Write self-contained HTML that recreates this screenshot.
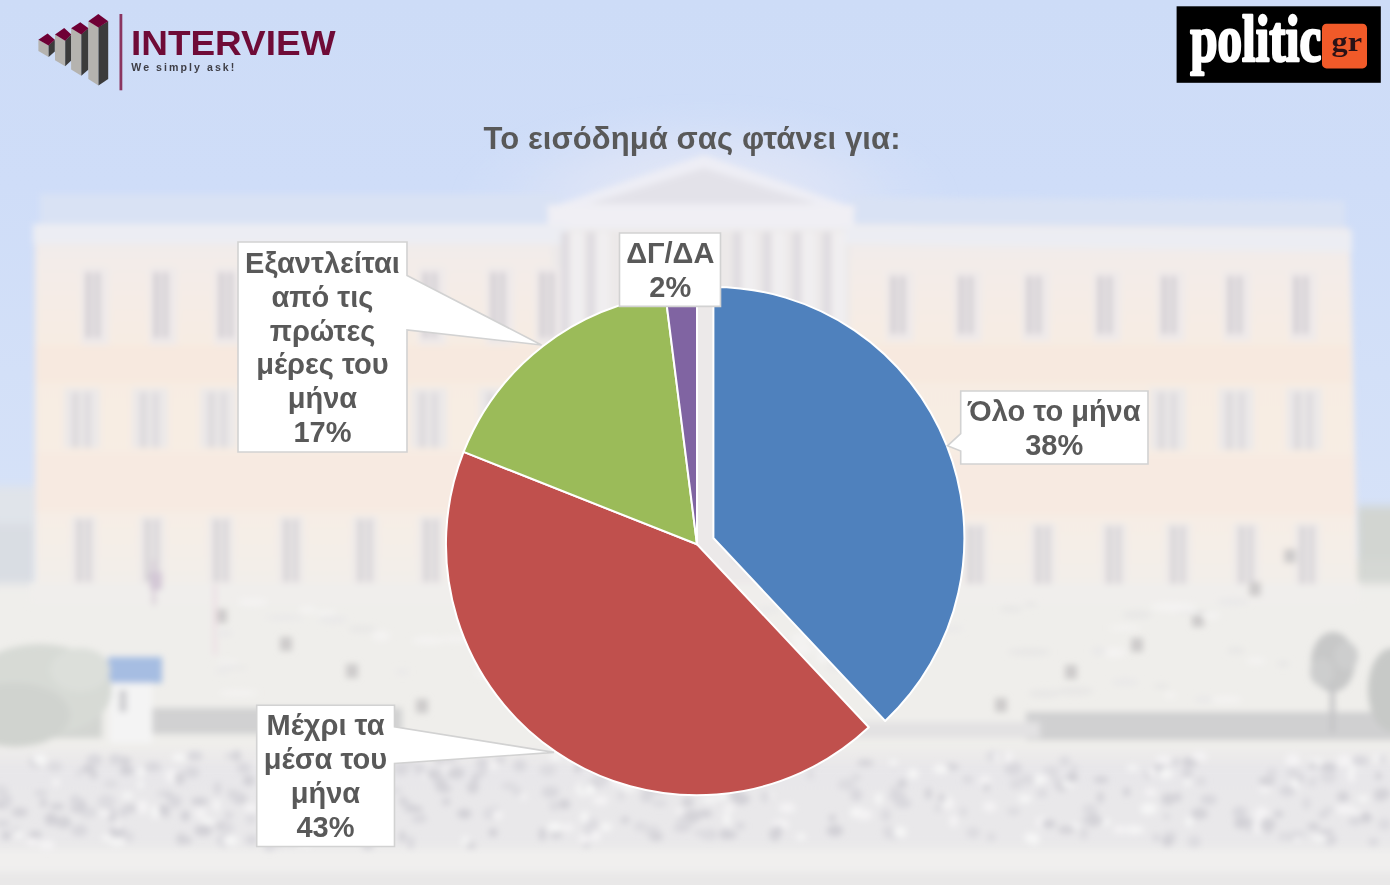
<!DOCTYPE html>
<html lang="el">
<head>
<meta charset="utf-8">
<title>Το εισόδημά σας φτάνει για</title>
<style>
  html, body { margin: 0; padding: 0; }
  body { width: 1390px; height: 885px; overflow: hidden; background: #efeceb; font-family: "Liberation Sans", sans-serif; }
  #stage { position: relative; width: 1390px; height: 885px; overflow: hidden; }
  svg { position: absolute; left: 0; top: 0; display: block; }
  #chart { filter: blur(0.45px); }
  text { font-family: "Liberation Sans", sans-serif; }
</style>
</head>
<body>
<div id="stage">

<!-- ===================== BACKGROUND (faded parliament photo) ===================== -->
<svg id="bg" width="1390" height="885" viewBox="0 0 1390 885">
<defs>
<linearGradient id="sky" x1="0" y1="0" x2="0" y2="1">
<stop offset="0" stop-color="#cddcf7"/><stop offset="0.3" stop-color="#cfddf8"/><stop offset="0.6" stop-color="#d3e0f8"/><stop offset="1" stop-color="#d8e3f8"/>
</linearGradient>
<linearGradient id="wall" x1="0" y1="0" x2="0" y2="1">
<stop offset="0" stop-color="#eeeaec"/><stop offset="0.10" stop-color="#f3ece9"/><stop offset="0.35" stop-color="#f7ece2"/><stop offset="0.75" stop-color="#f7ede4"/><stop offset="1" stop-color="#f2eeea"/>
</linearGradient>
<radialGradient id="halo" cx="0.5" cy="0.5" r="0.5">
<stop offset="0" stop-color="#e9eaf5" stop-opacity="0.95"/><stop offset="0.55" stop-color="#e1e6f6" stop-opacity="0.6"/><stop offset="1" stop-color="#d6e1f8" stop-opacity="0"/>
</radialGradient>
<linearGradient id="mot" x1="0" y1="0" x2="0" y2="1">
<stop offset="0" stop-color="#e8e7ea" stop-opacity="0"/><stop offset="0.2" stop-color="#e8e7ea" stop-opacity="1"/><stop offset="0.8" stop-color="#e9e8ea" stop-opacity="1"/><stop offset="1" stop-color="#ebeaec" stop-opacity="0"/>
</linearGradient>
<filter id="bl" x="-3%" y="-3%" width="106%" height="106%"><feGaussianBlur stdDeviation="3.2"/></filter>
<filter id="bl2" x="-3%" y="-3%" width="106%" height="106%"><feGaussianBlur stdDeviation="5"/></filter>
</defs>
<rect x="0.0" y="0.0" width="1390.0" height="885.0" fill="#d6e1f8"/>
<rect x="0.0" y="0.0" width="1390.0" height="620.0" fill="url(#sky)"/>
<g filter="url(#bl2)">
<ellipse cx="705.0" cy="200.0" rx="250.0" ry="100.0" fill="url(#halo)"/>
<rect x="-10.0" y="486.0" width="48.0" height="100.0" fill="#e0e4ea"/>
<rect x="-10.0" y="524.0" width="44.0" height="62.0" fill="#d9dde3"/>
<rect x="1356.0" y="506.0" width="50.0" height="240.0" fill="#d2d5d1"/>
<rect x="1344.0" y="560.0" width="60.0" height="180.0" fill="#d5d8d4"/>
<rect x="-10.0" y="584.0" width="1410.0" height="320.0" fill="#efeeeb"/>
</g>
<g filter="url(#bl)">
<rect x="40.0" y="194.0" width="520.0" height="32.0" fill="#d9e2f4"/>
<polygon points="850,197 1345,201 1345,232 850,226" fill="#d9e2f4"/>
<rect x="35.0" y="224.0" width="532.0" height="362.0" fill="url(#wall)"/>
<polygon points="845,224 1350,228 1358,592 845,590" fill="url(#wall)"/>
<rect x="552.0" y="212.0" width="298.0" height="376.0" fill="#ece9e9"/>
<polygon points="545,209 704,155 858,209" fill="#eeeef5"/>
<polygon points="588,204 704,168 818,204" fill="#e3e2e9"/>
<rect x="548.0" y="205.0" width="306.0" height="24.0" fill="#f0eff4"/>
<rect x="33.0" y="224.0" width="535.0" height="20.0" fill="#ecedf3"/>
<polygon points="845,226 1352,231 1352,252 845,244" fill="#ecedf3"/>
<rect x="36.0" y="345.0" width="530.0" height="38.0" fill="#f7e9df"/>
<rect x="36.0" y="452.0" width="530.0" height="60.0" fill="#f7eae1"/>
<polygon points="845,345 1350,345 1352,383 845,383" fill="#f7e9df"/>
<polygon points="845,455 1354,455 1356,516 845,516" fill="#f7eae1"/>
<rect x="81.0" y="267.0" width="28.0" height="78.0" fill="#efeaea"/>
<rect x="86.0" y="272.0" width="5.0" height="66.0" fill="#cdc9cf"/>
<rect x="95.0" y="272.0" width="5.0" height="66.0" fill="#d0ccd2"/>
<rect x="149.0" y="267.0" width="28.0" height="78.0" fill="#efeaea"/>
<rect x="154.0" y="272.0" width="5.0" height="66.0" fill="#cdc9cf"/>
<rect x="163.0" y="272.0" width="5.0" height="66.0" fill="#d0ccd2"/>
<rect x="214.0" y="267.0" width="28.0" height="78.0" fill="#efeaea"/>
<rect x="219.0" y="272.0" width="5.0" height="66.0" fill="#cdc9cf"/>
<rect x="228.0" y="272.0" width="5.0" height="66.0" fill="#d0ccd2"/>
<rect x="282.0" y="267.0" width="28.0" height="78.0" fill="#efeaea"/>
<rect x="287.0" y="272.0" width="5.0" height="66.0" fill="#cdc9cf"/>
<rect x="296.0" y="272.0" width="5.0" height="66.0" fill="#d0ccd2"/>
<rect x="350.0" y="267.0" width="28.0" height="78.0" fill="#efeaea"/>
<rect x="355.0" y="272.0" width="5.0" height="66.0" fill="#cdc9cf"/>
<rect x="364.0" y="272.0" width="5.0" height="66.0" fill="#d0ccd2"/>
<rect x="418.0" y="267.0" width="28.0" height="78.0" fill="#efeaea"/>
<rect x="423.0" y="272.0" width="5.0" height="66.0" fill="#cdc9cf"/>
<rect x="432.0" y="272.0" width="5.0" height="66.0" fill="#d0ccd2"/>
<rect x="486.0" y="267.0" width="28.0" height="78.0" fill="#efeaea"/>
<rect x="491.0" y="272.0" width="5.0" height="66.0" fill="#cdc9cf"/>
<rect x="500.0" y="272.0" width="5.0" height="66.0" fill="#d0ccd2"/>
<rect x="535.0" y="267.0" width="28.0" height="78.0" fill="#efeaea"/>
<rect x="540.0" y="272.0" width="5.0" height="66.0" fill="#cdc9cf"/>
<rect x="549.0" y="272.0" width="5.0" height="66.0" fill="#d0ccd2"/>
<rect x="886.0" y="271.0" width="28.0" height="70.0" fill="#efeaea"/>
<rect x="891.0" y="276.0" width="5.0" height="58.0" fill="#cdc9cf"/>
<rect x="900.0" y="276.0" width="5.0" height="58.0" fill="#d0ccd2"/>
<rect x="954.0" y="271.0" width="28.0" height="70.0" fill="#efeaea"/>
<rect x="959.0" y="276.0" width="5.0" height="58.0" fill="#cdc9cf"/>
<rect x="968.0" y="276.0" width="5.0" height="58.0" fill="#d0ccd2"/>
<rect x="1022.0" y="271.0" width="28.0" height="70.0" fill="#efeaea"/>
<rect x="1027.0" y="276.0" width="5.0" height="58.0" fill="#cdc9cf"/>
<rect x="1036.0" y="276.0" width="5.0" height="58.0" fill="#d0ccd2"/>
<rect x="1093.0" y="271.0" width="28.0" height="70.0" fill="#efeaea"/>
<rect x="1098.0" y="276.0" width="5.0" height="58.0" fill="#cdc9cf"/>
<rect x="1107.0" y="276.0" width="5.0" height="58.0" fill="#d0ccd2"/>
<rect x="1157.0" y="271.0" width="28.0" height="70.0" fill="#efeaea"/>
<rect x="1162.0" y="276.0" width="5.0" height="58.0" fill="#cdc9cf"/>
<rect x="1171.0" y="276.0" width="5.0" height="58.0" fill="#d0ccd2"/>
<rect x="1223.0" y="271.0" width="28.0" height="70.0" fill="#efeaea"/>
<rect x="1228.0" y="276.0" width="5.0" height="58.0" fill="#cdc9cf"/>
<rect x="1237.0" y="276.0" width="5.0" height="58.0" fill="#d0ccd2"/>
<rect x="1289.0" y="271.0" width="28.0" height="70.0" fill="#efeaea"/>
<rect x="1294.0" y="276.0" width="5.0" height="58.0" fill="#cdc9cf"/>
<rect x="1303.0" y="276.0" width="5.0" height="58.0" fill="#d0ccd2"/>
<rect x="64.0" y="388.0" width="36.0" height="60.0" fill="#ece9e9"/>
<rect x="72.0" y="392.0" width="7.0" height="56.0" fill="#dcd9dc"/>
<rect x="84.0" y="392.0" width="7.0" height="56.0" fill="#dedbde"/>
<rect x="132.0" y="388.0" width="36.0" height="60.0" fill="#ece9e9"/>
<rect x="140.0" y="392.0" width="7.0" height="56.0" fill="#dcd9dc"/>
<rect x="152.0" y="392.0" width="7.0" height="56.0" fill="#dedbde"/>
<rect x="200.0" y="388.0" width="36.0" height="60.0" fill="#ece9e9"/>
<rect x="208.0" y="392.0" width="7.0" height="56.0" fill="#dcd9dc"/>
<rect x="220.0" y="392.0" width="7.0" height="56.0" fill="#dedbde"/>
<rect x="268.0" y="388.0" width="36.0" height="60.0" fill="#ece9e9"/>
<rect x="276.0" y="392.0" width="7.0" height="56.0" fill="#dcd9dc"/>
<rect x="288.0" y="392.0" width="7.0" height="56.0" fill="#dedbde"/>
<rect x="411.0" y="388.0" width="36.0" height="60.0" fill="#ece9e9"/>
<rect x="419.0" y="392.0" width="7.0" height="56.0" fill="#dcd9dc"/>
<rect x="431.0" y="392.0" width="7.0" height="56.0" fill="#dedbde"/>
<rect x="479.0" y="388.0" width="36.0" height="60.0" fill="#ece9e9"/>
<rect x="487.0" y="392.0" width="7.0" height="56.0" fill="#dcd9dc"/>
<rect x="499.0" y="392.0" width="7.0" height="56.0" fill="#dedbde"/>
<rect x="528.0" y="388.0" width="36.0" height="60.0" fill="#ece9e9"/>
<rect x="536.0" y="392.0" width="7.0" height="56.0" fill="#dcd9dc"/>
<rect x="548.0" y="392.0" width="7.0" height="56.0" fill="#dedbde"/>
<rect x="1150.0" y="388.0" width="36.0" height="62.0" fill="#ece9e9"/>
<rect x="1158.0" y="392.0" width="7.0" height="58.0" fill="#dcd9dc"/>
<rect x="1170.0" y="392.0" width="7.0" height="58.0" fill="#dedbde"/>
<rect x="1218.0" y="388.0" width="36.0" height="62.0" fill="#ece9e9"/>
<rect x="1226.0" y="392.0" width="7.0" height="58.0" fill="#dcd9dc"/>
<rect x="1238.0" y="392.0" width="7.0" height="58.0" fill="#dedbde"/>
<rect x="1286.0" y="388.0" width="36.0" height="62.0" fill="#ece9e9"/>
<rect x="1294.0" y="392.0" width="7.0" height="58.0" fill="#dcd9dc"/>
<rect x="1306.0" y="392.0" width="7.0" height="58.0" fill="#dedbde"/>
<rect x="71.0" y="516.0" width="26.0" height="69.0" fill="#eeeae9"/>
<rect x="77.0" y="519.0" width="5.0" height="63.0" fill="#d3d0d4"/>
<rect x="86.0" y="519.0" width="5.0" height="63.0" fill="#d6d3d7"/>
<rect x="139.0" y="516.0" width="26.0" height="69.0" fill="#eeeae9"/>
<rect x="145.0" y="519.0" width="5.0" height="63.0" fill="#d3d0d4"/>
<rect x="154.0" y="519.0" width="5.0" height="63.0" fill="#d6d3d7"/>
<rect x="208.0" y="516.0" width="26.0" height="69.0" fill="#eeeae9"/>
<rect x="214.0" y="519.0" width="5.0" height="63.0" fill="#d3d0d4"/>
<rect x="223.0" y="519.0" width="5.0" height="63.0" fill="#d6d3d7"/>
<rect x="278.0" y="516.0" width="26.0" height="69.0" fill="#eeeae9"/>
<rect x="284.0" y="519.0" width="5.0" height="63.0" fill="#d3d0d4"/>
<rect x="293.0" y="519.0" width="5.0" height="63.0" fill="#d6d3d7"/>
<rect x="352.0" y="516.0" width="26.0" height="69.0" fill="#eeeae9"/>
<rect x="358.0" y="519.0" width="5.0" height="63.0" fill="#d3d0d4"/>
<rect x="367.0" y="519.0" width="5.0" height="63.0" fill="#d6d3d7"/>
<rect x="418.0" y="516.0" width="26.0" height="69.0" fill="#eeeae9"/>
<rect x="424.0" y="519.0" width="5.0" height="63.0" fill="#d3d0d4"/>
<rect x="433.0" y="519.0" width="5.0" height="63.0" fill="#d6d3d7"/>
<rect x="962.0" y="523.0" width="26.0" height="66.0" fill="#eeeae9"/>
<rect x="968.0" y="526.0" width="5.0" height="60.0" fill="#d3d0d4"/>
<rect x="977.0" y="526.0" width="5.0" height="60.0" fill="#d6d3d7"/>
<rect x="1030.0" y="523.0" width="26.0" height="66.0" fill="#eeeae9"/>
<rect x="1036.0" y="526.0" width="5.0" height="60.0" fill="#d3d0d4"/>
<rect x="1045.0" y="526.0" width="5.0" height="60.0" fill="#d6d3d7"/>
<rect x="1101.0" y="523.0" width="26.0" height="66.0" fill="#eeeae9"/>
<rect x="1107.0" y="526.0" width="5.0" height="60.0" fill="#d3d0d4"/>
<rect x="1116.0" y="526.0" width="5.0" height="60.0" fill="#d6d3d7"/>
<rect x="1165.0" y="523.0" width="26.0" height="66.0" fill="#eeeae9"/>
<rect x="1171.0" y="526.0" width="5.0" height="60.0" fill="#d3d0d4"/>
<rect x="1180.0" y="526.0" width="5.0" height="60.0" fill="#d6d3d7"/>
<rect x="1233.0" y="523.0" width="26.0" height="66.0" fill="#eeeae9"/>
<rect x="1239.0" y="526.0" width="5.0" height="60.0" fill="#d3d0d4"/>
<rect x="1248.0" y="526.0" width="5.0" height="60.0" fill="#d6d3d7"/>
<rect x="1294.0" y="523.0" width="26.0" height="66.0" fill="#eeeae9"/>
<rect x="1300.0" y="526.0" width="5.0" height="60.0" fill="#d3d0d4"/>
<rect x="1309.0" y="526.0" width="5.0" height="60.0" fill="#d6d3d7"/>
<rect x="561.0" y="232.0" width="8.0" height="330.0" fill="#dedbe0"/>
<rect x="571.0" y="232.0" width="12.0" height="330.0" fill="#f1eff1"/>
<rect x="587.0" y="232.0" width="8.0" height="330.0" fill="#dedbe0"/>
<rect x="597.0" y="232.0" width="12.0" height="330.0" fill="#f1eff1"/>
<rect x="733.0" y="232.0" width="8.0" height="330.0" fill="#dedbe0"/>
<rect x="743.0" y="232.0" width="12.0" height="330.0" fill="#f1eff1"/>
<rect x="763.0" y="232.0" width="8.0" height="330.0" fill="#dedbe0"/>
<rect x="773.0" y="232.0" width="12.0" height="330.0" fill="#f1eff1"/>
<rect x="793.0" y="232.0" width="8.0" height="330.0" fill="#dedbe0"/>
<rect x="803.0" y="232.0" width="12.0" height="330.0" fill="#f1eff1"/>
<rect x="823.0" y="232.0" width="8.0" height="330.0" fill="#dedbe0"/>
<rect x="833.0" y="232.0" width="12.0" height="330.0" fill="#f1eff1"/>
<rect x="30.0" y="584.0" width="1330.0" height="20.0" fill="#f0eeec"/>
<rect x="152.0" y="708.0" width="250.0" height="26.0" fill="#d1d1d2"/>
<rect x="-10.0" y="712.0" width="112.0" height="26.0" fill="#d3d5d2"/>
<rect x="1026.0" y="712.0" width="380.0" height="28.0" fill="#d0d0d1"/>
<rect x="640.0" y="722.0" width="400.0" height="16.0" fill="#e3e2e3"/>
<rect x="108.0" y="657.0" width="54.0" height="26.0" fill="#a6bde2"/>
<rect x="110.0" y="683.0" width="42.0" height="60.0" fill="#f4f4f4"/>
<rect x="119.0" y="690.0" width="8.0" height="22.0" fill="#cfcfd2"/>
<ellipse cx="40.0" cy="690.0" rx="72.0" ry="46.0" fill="#d7dad5"/>
<ellipse cx="15.0" cy="715.0" rx="55.0" ry="32.0" fill="#d0d3cf"/>
<ellipse cx="80.0" cy="670.0" rx="30.0" ry="22.0" fill="#dcdfda"/>
<ellipse cx="1333.0" cy="662.0" rx="22.0" ry="30.0" fill="#c7c8c8"/>
<ellipse cx="1322.0" cy="672.0" rx="12.0" ry="14.0" fill="#cdcece"/>
<ellipse cx="1346.0" cy="656.0" rx="12.0" ry="14.0" fill="#cdcece"/>
<rect x="1330.0" y="685.0" width="5.0" height="48.0" fill="#c4c4c6"/>
<ellipse cx="1392.0" cy="690.0" rx="24.0" ry="42.0" fill="#c7c9c7"/>
<rect x="215.0" y="609.0" width="12.0" height="14.0" fill="#cdcbcb"/>
<rect x="280.0" y="637.0" width="12.0" height="14.0" fill="#cdcbcb"/>
<rect x="346.0" y="664.0" width="12.0" height="14.0" fill="#cdcbcb"/>
<rect x="416.0" y="699.0" width="12.0" height="14.0" fill="#cdcbcb"/>
<rect x="1249.0" y="582.0" width="12.0" height="14.0" fill="#cdcbcb"/>
<rect x="1192.0" y="613.0" width="12.0" height="14.0" fill="#cdcbcb"/>
<rect x="1131.0" y="638.0" width="12.0" height="14.0" fill="#cdcbcb"/>
<rect x="1065.0" y="665.0" width="12.0" height="14.0" fill="#cdcbcb"/>
<rect x="995.0" y="698.0" width="12.0" height="14.0" fill="#cdcbcb"/>
<rect x="1284.0" y="549.0" width="12.0" height="14.0" fill="#cdcbcb"/>
<rect x="152.0" y="560.0" width="4.0" height="45.0" fill="#d9cfd9"/>
<rect x="150.0" y="572.0" width="12.0" height="18.0" fill="#d3c7d6"/>
<rect x="213.0" y="585.0" width="4.0" height="70.0" fill="#ecdfe4"/>
<rect x="-10.0" y="744.0" width="1410.0" height="122.0" fill="url(#mot)"/>
<rect x="-10.0" y="850.0" width="1410.0" height="22.0" fill="#f0efee"/>
<rect x="-10.0" y="872.0" width="1410.0" height="20.0" fill="#e9e8e8"/>
</g>
<g filter="url(#bl)">
<ellipse cx="450.1" cy="769.6" rx="6.9" ry="3.3" fill="#f4f3f4"/>
<ellipse cx="130.8" cy="808.5" rx="8.5" ry="3.9" fill="#d4d3d8"/>
<ellipse cx="602.8" cy="762.3" rx="3.5" ry="4.7" fill="#f4f3f4"/>
<ellipse cx="172.1" cy="776.1" rx="6.8" ry="6.8" fill="#f4f3f4"/>
<ellipse cx="813.9" cy="760.5" rx="4.3" ry="5.2" fill="#d9d8dd"/>
<ellipse cx="402.6" cy="769.0" rx="3.7" ry="4.2" fill="#f6f6f6"/>
<ellipse cx="251.2" cy="808.3" rx="6.8" ry="4.5" fill="#f4f3f4"/>
<ellipse cx="989.8" cy="806.8" rx="6.7" ry="5.0" fill="#f4f3f4"/>
<ellipse cx="594.4" cy="784.3" rx="6.5" ry="4.8" fill="#d1d0d6"/>
<ellipse cx="345.3" cy="772.2" rx="7.7" ry="3.3" fill="#d1d0d6"/>
<ellipse cx="730.0" cy="834.8" rx="7.4" ry="4.2" fill="#d4d3d8"/>
<ellipse cx="164.1" cy="793.6" rx="7.5" ry="3.6" fill="#dddce0"/>
<ellipse cx="586.2" cy="842.6" rx="3.5" ry="5.2" fill="#d1d0d6"/>
<ellipse cx="472.8" cy="787.5" rx="6.0" ry="6.2" fill="#d4d3d8"/>
<ellipse cx="1167.6" cy="841.0" rx="5.8" ry="5.7" fill="#d4d3d8"/>
<ellipse cx="1016.3" cy="783.9" rx="6.5" ry="5.7" fill="#dddce0"/>
<ellipse cx="395.6" cy="790.7" rx="7.0" ry="3.1" fill="#dddce0"/>
<ellipse cx="494.1" cy="811.0" rx="6.0" ry="3.9" fill="#d1d0d6"/>
<ellipse cx="179.8" cy="778.3" rx="5.3" ry="6.5" fill="#d4d3d8"/>
<ellipse cx="231.2" cy="792.1" rx="4.7" ry="3.5" fill="#dddce0"/>
<ellipse cx="1200.9" cy="781.1" rx="5.5" ry="4.4" fill="#dddce0"/>
<ellipse cx="1331.2" cy="769.6" rx="4.1" ry="3.9" fill="#d9d8dd"/>
<ellipse cx="16.8" cy="830.8" rx="4.1" ry="4.1" fill="#d9d8dd"/>
<ellipse cx="582.3" cy="789.2" rx="6.4" ry="6.8" fill="#f6f6f6"/>
<ellipse cx="1194.3" cy="841.5" rx="6.9" ry="6.0" fill="#dddce0"/>
<ellipse cx="1250.4" cy="826.2" rx="8.2" ry="6.2" fill="#dddce0"/>
<ellipse cx="553.3" cy="791.5" rx="5.9" ry="4.6" fill="#d9d8dd"/>
<ellipse cx="93.6" cy="774.8" rx="4.0" ry="4.4" fill="#d4d3d8"/>
<ellipse cx="142.3" cy="807.0" rx="6.2" ry="6.8" fill="#f4f3f4"/>
<ellipse cx="35.4" cy="834.7" rx="6.7" ry="3.6" fill="#d1d0d6"/>
<ellipse cx="1328.1" cy="810.2" rx="5.8" ry="3.5" fill="#dddce0"/>
<ellipse cx="1380.4" cy="797.9" rx="5.9" ry="3.3" fill="#d4d3d8"/>
<ellipse cx="1042.0" cy="822.6" rx="5.9" ry="5.8" fill="#f4f3f4"/>
<ellipse cx="32.1" cy="841.6" rx="6.2" ry="3.6" fill="#f4f3f4"/>
<ellipse cx="1270.7" cy="824.2" rx="4.8" ry="5.6" fill="#d4d3d8"/>
<ellipse cx="967.7" cy="779.5" rx="5.2" ry="3.7" fill="#d9d8dd"/>
<ellipse cx="740.3" cy="826.1" rx="5.0" ry="3.9" fill="#d9d8dd"/>
<ellipse cx="1120.4" cy="829.6" rx="7.4" ry="3.9" fill="#f4f3f4"/>
<ellipse cx="685.0" cy="821.8" rx="8.9" ry="6.2" fill="#dddce0"/>
<ellipse cx="360.3" cy="818.3" rx="8.7" ry="4.8" fill="#f6f6f6"/>
<ellipse cx="1373.4" cy="842.0" rx="5.2" ry="3.9" fill="#d9d8dd"/>
<ellipse cx="653.4" cy="786.4" rx="5.9" ry="6.9" fill="#f4f3f4"/>
<ellipse cx="1168.2" cy="799.2" rx="6.9" ry="6.2" fill="#d4d3d8"/>
<ellipse cx="1160.2" cy="766.8" rx="5.3" ry="5.8" fill="#d9d8dd"/>
<ellipse cx="664.5" cy="772.1" rx="7.7" ry="4.3" fill="#f6f6f6"/>
<ellipse cx="550.2" cy="792.1" rx="8.7" ry="5.9" fill="#d9d8dd"/>
<ellipse cx="1380.4" cy="758.5" rx="6.5" ry="4.9" fill="#f6f6f6"/>
<ellipse cx="203.2" cy="830.4" rx="8.9" ry="5.6" fill="#d1d0d6"/>
<ellipse cx="216.7" cy="805.3" rx="3.1" ry="6.2" fill="#f6f6f6"/>
<ellipse cx="903.0" cy="803.4" rx="8.6" ry="4.7" fill="#d9d8dd"/>
<ellipse cx="1148.4" cy="775.0" rx="4.5" ry="4.2" fill="#d9d8dd"/>
<ellipse cx="1061.5" cy="785.3" rx="6.3" ry="6.3" fill="#d4d3d8"/>
<ellipse cx="1264.9" cy="787.8" rx="5.7" ry="5.3" fill="#f4f3f4"/>
<ellipse cx="584.7" cy="838.6" rx="6.0" ry="5.1" fill="#f4f3f4"/>
<ellipse cx="709.7" cy="834.6" rx="7.7" ry="5.4" fill="#d9d8dd"/>
<ellipse cx="239.6" cy="798.6" rx="7.4" ry="5.2" fill="#d1d0d6"/>
<ellipse cx="948.4" cy="803.8" rx="5.9" ry="6.1" fill="#f4f3f4"/>
<ellipse cx="79.0" cy="773.2" rx="3.3" ry="3.4" fill="#dddce0"/>
<ellipse cx="780.8" cy="824.4" rx="8.5" ry="4.8" fill="#f4f3f4"/>
<ellipse cx="1353.0" cy="810.6" rx="4.2" ry="4.1" fill="#f4f3f4"/>
<ellipse cx="741.3" cy="799.0" rx="8.6" ry="5.8" fill="#d1d0d6"/>
<ellipse cx="1282.7" cy="836.3" rx="4.2" ry="4.8" fill="#dddce0"/>
<ellipse cx="169.1" cy="795.8" rx="3.4" ry="4.0" fill="#d4d3d8"/>
<ellipse cx="295.6" cy="783.3" rx="3.7" ry="6.1" fill="#f6f6f6"/>
<ellipse cx="894.4" cy="789.0" rx="4.5" ry="3.5" fill="#dddce0"/>
<ellipse cx="305.2" cy="841.7" rx="5.4" ry="4.9" fill="#f6f6f6"/>
<ellipse cx="1157.1" cy="770.5" rx="5.6" ry="5.1" fill="#d1d0d6"/>
<ellipse cx="585.6" cy="788.1" rx="3.6" ry="4.5" fill="#d1d0d6"/>
<ellipse cx="770.1" cy="795.6" rx="3.1" ry="4.3" fill="#f4f3f4"/>
<ellipse cx="410.7" cy="842.5" rx="3.7" ry="6.7" fill="#d9d8dd"/>
<ellipse cx="1350.7" cy="765.4" rx="4.6" ry="3.2" fill="#d9d8dd"/>
<ellipse cx="375.9" cy="767.7" rx="5.5" ry="6.6" fill="#d1d0d6"/>
<ellipse cx="564.3" cy="804.3" rx="6.1" ry="5.0" fill="#d1d0d6"/>
<ellipse cx="124.4" cy="761.2" rx="7.1" ry="4.7" fill="#d4d3d8"/>
<ellipse cx="373.8" cy="757.5" rx="3.5" ry="4.0" fill="#f4f3f4"/>
<ellipse cx="1190.2" cy="762.0" rx="8.2" ry="4.8" fill="#d1d0d6"/>
<ellipse cx="1382.1" cy="793.6" rx="8.5" ry="5.5" fill="#d4d3d8"/>
<ellipse cx="732.4" cy="777.5" rx="3.7" ry="3.6" fill="#d4d3d8"/>
<ellipse cx="251.8" cy="839.9" rx="6.8" ry="5.1" fill="#d9d8dd"/>
<ellipse cx="403.0" cy="801.0" rx="4.1" ry="4.4" fill="#d4d3d8"/>
<ellipse cx="1382.4" cy="759.3" rx="3.1" ry="5.0" fill="#d9d8dd"/>
<ellipse cx="714.8" cy="778.1" rx="5.7" ry="5.6" fill="#f6f6f6"/>
<ellipse cx="600.7" cy="800.6" rx="8.0" ry="4.6" fill="#f4f3f4"/>
<ellipse cx="427.8" cy="775.4" rx="4.4" ry="3.8" fill="#f6f6f6"/>
<ellipse cx="1013.1" cy="768.6" rx="8.9" ry="6.9" fill="#d9d8dd"/>
<ellipse cx="19.8" cy="812.3" rx="8.3" ry="4.7" fill="#d4d3d8"/>
<ellipse cx="117.4" cy="831.7" rx="8.2" ry="5.7" fill="#d1d0d6"/>
<ellipse cx="832.3" cy="818.3" rx="3.3" ry="3.7" fill="#d1d0d6"/>
<ellipse cx="619.7" cy="779.7" rx="8.8" ry="6.9" fill="#f4f3f4"/>
<ellipse cx="449.7" cy="759.1" rx="8.3" ry="3.9" fill="#d9d8dd"/>
<ellipse cx="1.5" cy="790.3" rx="5.8" ry="5.0" fill="#d9d8dd"/>
<ellipse cx="345.0" cy="825.9" rx="3.5" ry="6.3" fill="#d9d8dd"/>
<ellipse cx="555.3" cy="759.8" rx="3.1" ry="4.2" fill="#d9d8dd"/>
<ellipse cx="117.4" cy="842.2" rx="8.1" ry="3.6" fill="#f6f6f6"/>
<ellipse cx="1089.8" cy="809.7" rx="7.6" ry="5.9" fill="#dddce0"/>
<ellipse cx="207.8" cy="821.2" rx="6.9" ry="3.2" fill="#f6f6f6"/>
<ellipse cx="1239.8" cy="812.5" rx="7.4" ry="6.2" fill="#d9d8dd"/>
<ellipse cx="1264.7" cy="823.8" rx="6.4" ry="6.3" fill="#d4d3d8"/>
<ellipse cx="1148.7" cy="808.6" rx="8.4" ry="5.7" fill="#f6f6f6"/>
<ellipse cx="893.6" cy="763.7" rx="3.3" ry="5.5" fill="#d4d3d8"/>
<ellipse cx="523.5" cy="796.6" rx="3.3" ry="3.1" fill="#f4f3f4"/>
<ellipse cx="946.1" cy="800.0" rx="3.0" ry="6.2" fill="#f6f6f6"/>
<ellipse cx="1296.2" cy="836.8" rx="3.6" ry="5.1" fill="#f6f6f6"/>
<ellipse cx="1024.1" cy="778.7" rx="3.4" ry="4.1" fill="#f6f6f6"/>
<ellipse cx="1051.5" cy="776.8" rx="6.9" ry="4.8" fill="#dddce0"/>
<ellipse cx="106.7" cy="837.9" rx="4.7" ry="3.2" fill="#f6f6f6"/>
<ellipse cx="893.4" cy="763.0" rx="3.9" ry="4.0" fill="#f6f6f6"/>
<ellipse cx="963.1" cy="811.9" rx="3.8" ry="4.9" fill="#dddce0"/>
<ellipse cx="373.6" cy="816.5" rx="7.2" ry="5.7" fill="#d1d0d6"/>
<ellipse cx="985.3" cy="781.7" rx="5.8" ry="6.1" fill="#f4f3f4"/>
<ellipse cx="277.0" cy="844.0" rx="8.6" ry="3.1" fill="#dddce0"/>
<ellipse cx="106.3" cy="801.6" rx="9.0" ry="7.0" fill="#dddce0"/>
<ellipse cx="291.7" cy="841.1" rx="4.3" ry="5.3" fill="#d9d8dd"/>
<ellipse cx="1039.0" cy="779.6" rx="5.2" ry="5.4" fill="#f6f6f6"/>
<ellipse cx="707.2" cy="835.8" rx="7.2" ry="3.9" fill="#dddce0"/>
<ellipse cx="547.8" cy="770.3" rx="8.7" ry="5.7" fill="#dddce0"/>
<ellipse cx="419.7" cy="768.7" rx="5.1" ry="4.3" fill="#d1d0d6"/>
<ellipse cx="2.4" cy="823.6" rx="8.0" ry="3.5" fill="#d9d8dd"/>
<ellipse cx="991.1" cy="837.1" rx="4.7" ry="4.5" fill="#dddce0"/>
<ellipse cx="542.3" cy="834.3" rx="3.5" ry="6.7" fill="#d1d0d6"/>
<ellipse cx="1187.4" cy="781.3" rx="3.3" ry="5.6" fill="#f6f6f6"/>
<ellipse cx="1300.5" cy="778.4" rx="4.6" ry="5.0" fill="#d9d8dd"/>
<ellipse cx="1074.7" cy="826.7" rx="5.6" ry="3.1" fill="#f6f6f6"/>
<ellipse cx="556.1" cy="834.8" rx="6.3" ry="3.8" fill="#d4d3d8"/>
<ellipse cx="68.8" cy="821.9" rx="5.7" ry="6.0" fill="#f6f6f6"/>
<ellipse cx="1208.6" cy="799.7" rx="8.5" ry="5.2" fill="#d9d8dd"/>
<ellipse cx="656.3" cy="786.9" rx="4.8" ry="6.0" fill="#f6f6f6"/>
<ellipse cx="361.6" cy="815.0" rx="4.8" ry="5.2" fill="#dddce0"/>
<ellipse cx="166.4" cy="813.9" rx="3.5" ry="5.0" fill="#dddce0"/>
<ellipse cx="765.0" cy="796.8" rx="5.0" ry="6.0" fill="#dddce0"/>
<ellipse cx="194.0" cy="773.3" rx="3.5" ry="4.4" fill="#d4d3d8"/>
<ellipse cx="443.8" cy="789.1" rx="7.9" ry="3.8" fill="#d4d3d8"/>
<ellipse cx="1042.0" cy="793.2" rx="5.5" ry="5.1" fill="#dddce0"/>
<ellipse cx="375.6" cy="823.7" rx="6.0" ry="5.3" fill="#d1d0d6"/>
<ellipse cx="175.0" cy="801.3" rx="6.8" ry="6.5" fill="#d9d8dd"/>
<ellipse cx="128.7" cy="836.7" rx="5.3" ry="5.6" fill="#dddce0"/>
<ellipse cx="1326.0" cy="832.4" rx="8.2" ry="3.1" fill="#d4d3d8"/>
<ellipse cx="591.0" cy="824.7" rx="7.8" ry="6.9" fill="#dddce0"/>
<ellipse cx="0.2" cy="791.2" rx="8.6" ry="6.3" fill="#dddce0"/>
<ellipse cx="1351.4" cy="778.4" rx="3.7" ry="3.6" fill="#f4f3f4"/>
<ellipse cx="1350.9" cy="765.8" rx="8.0" ry="5.8" fill="#dddce0"/>
<ellipse cx="118.2" cy="825.9" rx="3.0" ry="3.5" fill="#f4f3f4"/>
<ellipse cx="1278.7" cy="814.1" rx="4.8" ry="3.5" fill="#d1d0d6"/>
<ellipse cx="734.3" cy="795.4" rx="7.6" ry="3.4" fill="#d1d0d6"/>
<ellipse cx="729.0" cy="808.5" rx="5.3" ry="3.9" fill="#f4f3f4"/>
<ellipse cx="1.6" cy="804.4" rx="9.0" ry="4.1" fill="#d1d0d6"/>
<ellipse cx="896.0" cy="835.5" rx="5.9" ry="3.9" fill="#d9d8dd"/>
<ellipse cx="40.7" cy="793.1" rx="6.9" ry="3.2" fill="#d9d8dd"/>
<ellipse cx="692.7" cy="816.7" rx="5.5" ry="4.0" fill="#f6f6f6"/>
<ellipse cx="589.8" cy="789.3" rx="6.0" ry="5.8" fill="#f6f6f6"/>
<ellipse cx="584.6" cy="817.4" rx="4.2" ry="6.2" fill="#f6f6f6"/>
<ellipse cx="1174.8" cy="762.1" rx="6.0" ry="3.8" fill="#d9d8dd"/>
<ellipse cx="320.8" cy="775.9" rx="7.6" ry="4.2" fill="#f4f3f4"/>
<ellipse cx="689.1" cy="772.9" rx="4.3" ry="4.7" fill="#f6f6f6"/>
<ellipse cx="78.4" cy="809.5" rx="8.5" ry="3.2" fill="#d4d3d8"/>
<ellipse cx="1354.0" cy="768.8" rx="3.3" ry="3.2" fill="#dddce0"/>
<ellipse cx="625.0" cy="820.1" rx="4.9" ry="3.5" fill="#d4d3d8"/>
<ellipse cx="1294.9" cy="785.6" rx="4.1" ry="6.7" fill="#f6f6f6"/>
<ellipse cx="650.0" cy="784.1" rx="7.4" ry="6.4" fill="#d1d0d6"/>
<ellipse cx="615.0" cy="765.8" rx="3.5" ry="3.3" fill="#dddce0"/>
<ellipse cx="1328.2" cy="767.1" rx="8.8" ry="3.8" fill="#d1d0d6"/>
<ellipse cx="1068.5" cy="783.8" rx="7.8" ry="3.4" fill="#f6f6f6"/>
<ellipse cx="658.1" cy="789.5" rx="8.5" ry="3.8" fill="#d1d0d6"/>
<ellipse cx="1024.9" cy="798.7" rx="6.8" ry="4.0" fill="#f6f6f6"/>
<ellipse cx="1065.7" cy="759.7" rx="3.2" ry="3.3" fill="#d4d3d8"/>
<ellipse cx="357.3" cy="823.3" rx="8.4" ry="4.4" fill="#d1d0d6"/>
<ellipse cx="465.6" cy="841.8" rx="3.3" ry="6.0" fill="#f6f6f6"/>
<ellipse cx="439.9" cy="780.8" rx="3.0" ry="6.0" fill="#f6f6f6"/>
<ellipse cx="1315.6" cy="761.9" rx="8.0" ry="3.4" fill="#f6f6f6"/>
<ellipse cx="1329.9" cy="841.9" rx="5.3" ry="4.0" fill="#dddce0"/>
<ellipse cx="1132.6" cy="767.9" rx="6.0" ry="3.0" fill="#f6f6f6"/>
<ellipse cx="421.6" cy="818.3" rx="3.9" ry="3.9" fill="#d1d0d6"/>
<ellipse cx="640.5" cy="826.5" rx="6.6" ry="5.0" fill="#dddce0"/>
<ellipse cx="1046.5" cy="778.3" rx="3.4" ry="3.1" fill="#f4f3f4"/>
<ellipse cx="757.0" cy="770.5" rx="5.6" ry="3.4" fill="#d4d3d8"/>
<ellipse cx="368.2" cy="763.6" rx="3.6" ry="5.0" fill="#f6f6f6"/>
<ellipse cx="1351.2" cy="771.6" rx="3.8" ry="4.8" fill="#f6f6f6"/>
<ellipse cx="326.6" cy="804.5" rx="7.6" ry="6.0" fill="#d1d0d6"/>
<ellipse cx="408.4" cy="807.0" rx="5.2" ry="6.0" fill="#d9d8dd"/>
<ellipse cx="610.8" cy="772.7" rx="4.4" ry="4.1" fill="#f4f3f4"/>
<ellipse cx="261.7" cy="761.8" rx="4.5" ry="4.0" fill="#f4f3f4"/>
<ellipse cx="321.6" cy="828.8" rx="6.9" ry="7.0" fill="#d4d3d8"/>
<ellipse cx="6.2" cy="835.5" rx="4.4" ry="4.8" fill="#d1d0d6"/>
<ellipse cx="56.1" cy="782.4" rx="3.7" ry="3.8" fill="#f4f3f4"/>
<ellipse cx="269.9" cy="762.8" rx="6.1" ry="3.7" fill="#f4f3f4"/>
<ellipse cx="361.3" cy="826.0" rx="8.7" ry="3.4" fill="#f4f3f4"/>
<ellipse cx="986.5" cy="787.5" rx="3.2" ry="4.4" fill="#d4d3d8"/>
<ellipse cx="283.5" cy="778.9" rx="6.6" ry="5.6" fill="#d9d8dd"/>
<ellipse cx="1132.5" cy="829.7" rx="5.5" ry="4.5" fill="#f4f3f4"/>
<ellipse cx="434.0" cy="774.3" rx="7.8" ry="5.2" fill="#d4d3d8"/>
<ellipse cx="567.4" cy="827.6" rx="7.0" ry="3.6" fill="#f4f3f4"/>
<ellipse cx="126.7" cy="770.7" rx="7.2" ry="4.6" fill="#d1d0d6"/>
<ellipse cx="928.3" cy="793.6" rx="3.3" ry="6.0" fill="#d1d0d6"/>
<ellipse cx="575.6" cy="757.6" rx="7.6" ry="6.2" fill="#f6f6f6"/>
<ellipse cx="274.1" cy="821.5" rx="4.2" ry="3.0" fill="#d9d8dd"/>
<ellipse cx="589.0" cy="829.8" rx="5.4" ry="6.5" fill="#dddce0"/>
<ellipse cx="1074.5" cy="767.7" rx="3.3" ry="3.6" fill="#dddce0"/>
<ellipse cx="123.8" cy="812.0" rx="5.2" ry="5.0" fill="#d9d8dd"/>
<ellipse cx="483.6" cy="770.6" rx="4.0" ry="3.3" fill="#dddce0"/>
<ellipse cx="681.8" cy="828.4" rx="8.8" ry="3.8" fill="#d9d8dd"/>
<ellipse cx="1163.8" cy="759.9" rx="8.5" ry="4.3" fill="#f4f3f4"/>
<ellipse cx="1287.4" cy="790.9" rx="8.4" ry="5.5" fill="#d9d8dd"/>
<ellipse cx="890.1" cy="833.1" rx="6.7" ry="5.5" fill="#d9d8dd"/>
<ellipse cx="1152.6" cy="772.5" rx="4.3" ry="4.6" fill="#f4f3f4"/>
<ellipse cx="217.5" cy="788.3" rx="3.9" ry="6.9" fill="#d9d8dd"/>
<ellipse cx="57.1" cy="806.6" rx="7.5" ry="3.2" fill="#d1d0d6"/>
<ellipse cx="163.6" cy="810.0" rx="6.3" ry="5.5" fill="#d1d0d6"/>
<ellipse cx="902.1" cy="783.7" rx="4.5" ry="4.6" fill="#d1d0d6"/>
<ellipse cx="621.0" cy="795.5" rx="3.1" ry="5.5" fill="#dddce0"/>
<ellipse cx="646.7" cy="796.2" rx="6.7" ry="6.3" fill="#d9d8dd"/>
<ellipse cx="1126.6" cy="792.0" rx="3.4" ry="4.4" fill="#d1d0d6"/>
<ellipse cx="127.5" cy="795.8" rx="6.1" ry="3.2" fill="#f6f6f6"/>
<ellipse cx="181.1" cy="839.0" rx="4.9" ry="5.9" fill="#d4d3d8"/>
<ellipse cx="75.4" cy="801.4" rx="5.3" ry="6.8" fill="#d9d8dd"/>
<ellipse cx="35.9" cy="762.0" rx="6.7" ry="5.8" fill="#d4d3d8"/>
<ellipse cx="269.3" cy="844.4" rx="6.0" ry="6.8" fill="#d9d8dd"/>
<ellipse cx="953.7" cy="820.9" rx="4.3" ry="6.3" fill="#f4f3f4"/>
<ellipse cx="1051.1" cy="770.3" rx="8.4" ry="4.1" fill="#dddce0"/>
<ellipse cx="199.6" cy="801.2" rx="8.5" ry="3.8" fill="#d1d0d6"/>
<ellipse cx="856.1" cy="777.4" rx="5.2" ry="3.8" fill="#dddce0"/>
<ellipse cx="224.1" cy="840.3" rx="7.1" ry="6.6" fill="#d9d8dd"/>
<ellipse cx="1101.1" cy="779.8" rx="7.6" ry="3.2" fill="#d1d0d6"/>
<ellipse cx="1343.0" cy="796.8" rx="6.1" ry="5.8" fill="#d4d3d8"/>
<ellipse cx="350.3" cy="804.2" rx="8.1" ry="6.0" fill="#d1d0d6"/>
<ellipse cx="368.0" cy="845.1" rx="6.5" ry="4.4" fill="#d4d3d8"/>
<ellipse cx="614.8" cy="771.9" rx="7.5" ry="3.2" fill="#f4f3f4"/>
<ellipse cx="352.6" cy="813.5" rx="8.9" ry="5.3" fill="#f6f6f6"/>
<ellipse cx="1245.1" cy="822.0" rx="7.5" ry="3.9" fill="#d1d0d6"/>
<ellipse cx="856.3" cy="794.9" rx="6.1" ry="6.6" fill="#d9d8dd"/>
<ellipse cx="678.9" cy="811.1" rx="3.3" ry="3.2" fill="#f4f3f4"/>
<ellipse cx="493.4" cy="765.6" rx="5.1" ry="3.9" fill="#f4f3f4"/>
<ellipse cx="418.6" cy="768.0" rx="5.2" ry="6.3" fill="#d9d8dd"/>
<ellipse cx="187.3" cy="840.3" rx="4.5" ry="3.6" fill="#d4d3d8"/>
<ellipse cx="88.5" cy="769.0" rx="7.0" ry="4.1" fill="#d1d0d6"/>
<ellipse cx="1344.3" cy="761.1" rx="7.9" ry="6.6" fill="#f4f3f4"/>
<ellipse cx="897.4" cy="795.9" rx="8.6" ry="5.9" fill="#d9d8dd"/>
<ellipse cx="229.5" cy="756.0" rx="3.4" ry="3.1" fill="#d9d8dd"/>
<ellipse cx="330.4" cy="761.3" rx="7.7" ry="3.0" fill="#f4f3f4"/>
<ellipse cx="913.0" cy="773.8" rx="5.5" ry="5.1" fill="#f6f6f6"/>
<ellipse cx="704.7" cy="813.7" rx="7.9" ry="3.7" fill="#d1d0d6"/>
<ellipse cx="88.6" cy="812.3" rx="9.0" ry="5.9" fill="#dddce0"/>
<ellipse cx="994.4" cy="756.6" rx="8.1" ry="6.0" fill="#dddce0"/>
<ellipse cx="111.9" cy="815.0" rx="4.1" ry="7.0" fill="#d1d0d6"/>
<ellipse cx="322.9" cy="759.5" rx="5.0" ry="6.0" fill="#f6f6f6"/>
<ellipse cx="1310.6" cy="779.7" rx="3.3" ry="5.5" fill="#f6f6f6"/>
<ellipse cx="606.1" cy="827.0" rx="6.1" ry="4.1" fill="#f6f6f6"/>
<ellipse cx="1290.7" cy="836.5" rx="3.5" ry="5.0" fill="#d9d8dd"/>
<ellipse cx="361.9" cy="777.2" rx="7.5" ry="6.8" fill="#f6f6f6"/>
<ellipse cx="1271.8" cy="773.3" rx="5.3" ry="5.4" fill="#dddce0"/>
<ellipse cx="1261.5" cy="812.8" rx="7.2" ry="5.7" fill="#f4f3f4"/>
<ellipse cx="652.6" cy="831.6" rx="7.2" ry="6.4" fill="#dddce0"/>
<ellipse cx="1328.4" cy="777.0" rx="8.3" ry="6.2" fill="#dddce0"/>
<ellipse cx="865.4" cy="763.0" rx="8.5" ry="3.6" fill="#d4d3d8"/>
<ellipse cx="155.5" cy="812.0" rx="4.0" ry="6.9" fill="#f6f6f6"/>
<ellipse cx="39.9" cy="759.7" rx="7.2" ry="5.5" fill="#f6f6f6"/>
<ellipse cx="94.3" cy="760.2" rx="8.1" ry="6.0" fill="#d9d8dd"/>
<ellipse cx="1136.4" cy="829.8" rx="8.3" ry="3.3" fill="#f6f6f6"/>
<ellipse cx="1312.6" cy="765.6" rx="4.2" ry="3.4" fill="#d4d3d8"/>
<ellipse cx="1319.5" cy="838.0" rx="7.5" ry="3.3" fill="#f6f6f6"/>
<ellipse cx="878.8" cy="798.9" rx="3.8" ry="6.2" fill="#f6f6f6"/>
<ellipse cx="284.9" cy="784.7" rx="5.5" ry="3.1" fill="#d1d0d6"/>
<ellipse cx="1292.8" cy="760.4" rx="7.6" ry="6.6" fill="#f4f3f4"/>
<ellipse cx="700.2" cy="832.6" rx="6.7" ry="3.1" fill="#dddce0"/>
<ellipse cx="43.4" cy="802.7" rx="3.6" ry="4.9" fill="#d4d3d8"/>
<ellipse cx="747.7" cy="775.5" rx="8.2" ry="3.4" fill="#d1d0d6"/>
<ellipse cx="236.8" cy="756.1" rx="4.2" ry="6.0" fill="#d4d3d8"/>
<ellipse cx="6.1" cy="800.2" rx="5.9" ry="6.2" fill="#d9d8dd"/>
<ellipse cx="1344.3" cy="809.3" rx="8.7" ry="5.1" fill="#f4f3f4"/>
<ellipse cx="1312.0" cy="781.5" rx="4.3" ry="5.8" fill="#dddce0"/>
<ellipse cx="230.4" cy="840.5" rx="7.6" ry="5.0" fill="#f6f6f6"/>
<ellipse cx="780.1" cy="765.4" rx="5.0" ry="3.4" fill="#dddce0"/>
<ellipse cx="1239.7" cy="823.1" rx="5.5" ry="5.6" fill="#d1d0d6"/>
<ellipse cx="286.5" cy="779.7" rx="8.4" ry="5.0" fill="#dddce0"/>
<ellipse cx="1365.5" cy="812.8" rx="8.7" ry="3.5" fill="#f4f3f4"/>
<ellipse cx="1048.7" cy="823.8" rx="6.9" ry="4.4" fill="#d1d0d6"/>
<ellipse cx="725.2" cy="834.1" rx="5.7" ry="5.2" fill="#d1d0d6"/>
<ellipse cx="235.7" cy="795.5" rx="7.6" ry="5.3" fill="#d9d8dd"/>
<ellipse cx="464.3" cy="813.8" rx="7.2" ry="5.0" fill="#d1d0d6"/>
<ellipse cx="419.1" cy="819.3" rx="8.1" ry="3.6" fill="#d9d8dd"/>
<ellipse cx="1354.9" cy="821.1" rx="6.6" ry="4.4" fill="#d9d8dd"/>
<ellipse cx="456.0" cy="773.0" rx="8.9" ry="5.9" fill="#d4d3d8"/>
<ellipse cx="228.8" cy="815.2" rx="4.2" ry="3.6" fill="#d9d8dd"/>
<ellipse cx="1104.9" cy="822.0" rx="5.6" ry="3.8" fill="#f6f6f6"/>
<ellipse cx="1266.8" cy="781.3" rx="8.3" ry="4.9" fill="#d4d3d8"/>
<ellipse cx="554.6" cy="827.2" rx="7.2" ry="5.0" fill="#f6f6f6"/>
<ellipse cx="411.7" cy="758.0" rx="4.5" ry="6.0" fill="#d4d3d8"/>
<ellipse cx="1029.9" cy="837.7" rx="5.6" ry="5.3" fill="#f6f6f6"/>
<ellipse cx="899.6" cy="832.1" rx="7.0" ry="5.6" fill="#f6f6f6"/>
<ellipse cx="973.1" cy="832.7" rx="7.1" ry="5.6" fill="#dddce0"/>
<ellipse cx="601.2" cy="779.4" rx="7.2" ry="6.6" fill="#d9d8dd"/>
<ellipse cx="1087.5" cy="820.2" rx="6.8" ry="4.0" fill="#dddce0"/>
<ellipse cx="671.0" cy="757.8" rx="8.2" ry="5.1" fill="#f6f6f6"/>
<ellipse cx="1293.0" cy="772.5" rx="6.9" ry="6.1" fill="#dddce0"/>
<ellipse cx="1156.3" cy="837.7" rx="3.6" ry="4.0" fill="#d9d8dd"/>
<ellipse cx="223.6" cy="826.4" rx="8.6" ry="5.1" fill="#d4d3d8"/>
<ellipse cx="1177.6" cy="797.1" rx="4.2" ry="4.9" fill="#d4d3d8"/>
<ellipse cx="888.6" cy="830.6" rx="6.1" ry="4.6" fill="#dddce0"/>
<ellipse cx="292.0" cy="817.6" rx="5.4" ry="6.1" fill="#d4d3d8"/>
<ellipse cx="1013.5" cy="811.3" rx="6.8" ry="4.0" fill="#dddce0"/>
<ellipse cx="555.6" cy="757.2" rx="5.5" ry="4.7" fill="#f6f6f6"/>
<ellipse cx="938.1" cy="808.2" rx="3.7" ry="4.2" fill="#dddce0"/>
<ellipse cx="1306.5" cy="803.4" rx="4.3" ry="6.2" fill="#dddce0"/>
<ellipse cx="642.3" cy="770.8" rx="8.6" ry="3.3" fill="#f6f6f6"/>
<ellipse cx="268.5" cy="813.8" rx="7.3" ry="6.3" fill="#d9d8dd"/>
<ellipse cx="490.9" cy="813.5" rx="7.9" ry="6.3" fill="#dddce0"/>
<ellipse cx="1384.6" cy="824.4" rx="6.9" ry="6.1" fill="#dddce0"/>
<ellipse cx="493.1" cy="832.6" rx="4.6" ry="4.5" fill="#d1d0d6"/>
<ellipse cx="1366.2" cy="817.1" rx="5.9" ry="6.2" fill="#d1d0d6"/>
<ellipse cx="497.6" cy="814.9" rx="4.9" ry="4.9" fill="#f4f3f4"/>
<ellipse cx="885.8" cy="815.3" rx="5.2" ry="6.7" fill="#dddce0"/>
<ellipse cx="79.3" cy="830.5" rx="8.4" ry="6.1" fill="#d9d8dd"/>
<ellipse cx="737.6" cy="787.1" rx="6.5" ry="5.6" fill="#d9d8dd"/>
<ellipse cx="1323.0" cy="815.0" rx="4.5" ry="3.4" fill="#d9d8dd"/>
<ellipse cx="1187.3" cy="772.7" rx="5.7" ry="6.1" fill="#d9d8dd"/>
<ellipse cx="1256.7" cy="827.3" rx="4.0" ry="6.6" fill="#f4f3f4"/>
<ellipse cx="1358.3" cy="764.1" rx="8.4" ry="5.2" fill="#f6f6f6"/>
<ellipse cx="1165.9" cy="773.8" rx="7.2" ry="5.1" fill="#f6f6f6"/>
<ellipse cx="1166.6" cy="816.4" rx="3.7" ry="3.5" fill="#dddce0"/>
<ellipse cx="325.5" cy="768.5" rx="6.0" ry="3.2" fill="#dddce0"/>
<ellipse cx="1258.6" cy="819.0" rx="4.5" ry="3.7" fill="#f4f3f4"/>
<ellipse cx="1199.4" cy="756.6" rx="8.0" ry="4.9" fill="#f4f3f4"/>
<ellipse cx="691.7" cy="782.7" rx="5.8" ry="4.7" fill="#f6f6f6"/>
<ellipse cx="104.8" cy="813.3" rx="6.8" ry="3.1" fill="#f4f3f4"/>
<ellipse cx="63.8" cy="822.3" rx="9.0" ry="6.2" fill="#d4d3d8"/>
<ellipse cx="709.8" cy="799.6" rx="8.4" ry="3.1" fill="#f6f6f6"/>
<ellipse cx="577.7" cy="767.4" rx="3.6" ry="5.6" fill="#d1d0d6"/>
<ellipse cx="659.6" cy="803.3" rx="7.6" ry="3.8" fill="#dddce0"/>
<ellipse cx="475.3" cy="778.6" rx="3.3" ry="4.2" fill="#d1d0d6"/>
<ellipse cx="1150.6" cy="792.3" rx="6.0" ry="4.1" fill="#f4f3f4"/>
<ellipse cx="479.3" cy="774.3" rx="6.0" ry="3.5" fill="#d9d8dd"/>
<ellipse cx="440.8" cy="782.9" rx="6.5" ry="5.5" fill="#d4d3d8"/>
<ellipse cx="554.4" cy="805.9" rx="5.4" ry="5.3" fill="#dddce0"/>
<ellipse cx="417.6" cy="756.6" rx="4.1" ry="6.7" fill="#f4f3f4"/>
<ellipse cx="1064.7" cy="761.4" rx="6.0" ry="5.2" fill="#dddce0"/>
<ellipse cx="857.2" cy="812.4" rx="7.2" ry="5.4" fill="#f6f6f6"/>
<ellipse cx="115.4" cy="759.6" rx="6.8" ry="5.5" fill="#d9d8dd"/>
<ellipse cx="140.9" cy="772.3" rx="3.2" ry="6.1" fill="#f6f6f6"/>
<ellipse cx="18.7" cy="834.5" rx="3.8" ry="4.2" fill="#f6f6f6"/>
<ellipse cx="358.6" cy="783.2" rx="5.5" ry="4.3" fill="#dddce0"/>
<ellipse cx="787.2" cy="808.0" rx="8.5" ry="5.0" fill="#f4f3f4"/>
<ellipse cx="54.7" cy="766.7" rx="7.9" ry="5.3" fill="#dddce0"/>
<ellipse cx="620.6" cy="757.3" rx="5.3" ry="5.4" fill="#f6f6f6"/>
<ellipse cx="1363.3" cy="798.8" rx="5.5" ry="3.4" fill="#f6f6f6"/>
<ellipse cx="656.3" cy="836.6" rx="6.8" ry="4.7" fill="#d4d3d8"/>
<ellipse cx="950.4" cy="767.0" rx="8.8" ry="3.4" fill="#d4d3d8"/>
<ellipse cx="179.3" cy="757.6" rx="7.3" ry="4.0" fill="#f6f6f6"/>
<ellipse cx="1034.4" cy="839.1" rx="5.2" ry="6.0" fill="#f6f6f6"/>
<ellipse cx="1189.1" cy="821.7" rx="3.5" ry="5.5" fill="#f6f6f6"/>
<ellipse cx="692.4" cy="816.3" rx="8.3" ry="6.7" fill="#d4d3d8"/>
<ellipse cx="996.9" cy="757.0" rx="3.1" ry="5.6" fill="#f4f3f4"/>
<ellipse cx="110.8" cy="784.0" rx="7.4" ry="3.7" fill="#dddce0"/>
<ellipse cx="846.4" cy="784.5" rx="8.7" ry="5.9" fill="#dddce0"/>
<ellipse cx="940.9" cy="769.0" rx="7.8" ry="4.5" fill="#f6f6f6"/>
<ellipse cx="228.0" cy="828.2" rx="5.9" ry="6.1" fill="#dddce0"/>
<ellipse cx="1313.4" cy="826.6" rx="6.4" ry="4.2" fill="#d4d3d8"/>
<ellipse cx="864.4" cy="814.6" rx="7.8" ry="5.4" fill="#f4f3f4"/>
<ellipse cx="1008.7" cy="757.4" rx="3.9" ry="6.3" fill="#f4f3f4"/>
<ellipse cx="595.7" cy="835.9" rx="5.3" ry="5.7" fill="#f4f3f4"/>
<ellipse cx="1072.3" cy="777.1" rx="5.7" ry="5.8" fill="#d1d0d6"/>
<ellipse cx="365.6" cy="794.0" rx="6.5" ry="6.3" fill="#d4d3d8"/>
<ellipse cx="401.0" cy="768.7" rx="8.3" ry="7.0" fill="#d9d8dd"/>
<ellipse cx="380.6" cy="832.6" rx="7.8" ry="5.7" fill="#dddce0"/>
<ellipse cx="482.1" cy="763.7" rx="6.3" ry="6.2" fill="#d9d8dd"/>
<ellipse cx="1094.9" cy="821.0" rx="8.9" ry="4.2" fill="#d4d3d8"/>
<ellipse cx="942.0" cy="797.9" rx="4.2" ry="4.0" fill="#d4d3d8"/>
<ellipse cx="1100.4" cy="797.4" rx="3.5" ry="6.2" fill="#d4d3d8"/>
<ellipse cx="323.7" cy="808.2" rx="8.4" ry="6.5" fill="#f4f3f4"/>
<ellipse cx="446.2" cy="801.6" rx="4.2" ry="3.9" fill="#d4d3d8"/>
<ellipse cx="251.2" cy="819.1" rx="5.2" ry="5.3" fill="#dddce0"/>
<ellipse cx="1083.7" cy="833.1" rx="4.5" ry="6.7" fill="#dddce0"/>
<ellipse cx="519.9" cy="765.6" rx="6.8" ry="6.1" fill="#d9d8dd"/>
<ellipse cx="438.9" cy="758.7" rx="4.7" ry="5.4" fill="#d4d3d8"/>
<ellipse cx="46.7" cy="845.1" rx="8.2" ry="4.9" fill="#f4f3f4"/>
<ellipse cx="296.9" cy="839.3" rx="4.7" ry="3.4" fill="#dddce0"/>
<ellipse cx="1066.5" cy="829.7" rx="8.8" ry="4.0" fill="#d4d3d8"/>
<ellipse cx="471.0" cy="845.5" rx="5.3" ry="3.1" fill="#d4d3d8"/>
<ellipse cx="774.8" cy="834.4" rx="5.7" ry="6.8" fill="#d4d3d8"/>
<ellipse cx="1199.5" cy="813.6" rx="8.5" ry="5.8" fill="#d4d3d8"/>
<ellipse cx="357.5" cy="806.8" rx="6.8" ry="6.8" fill="#f6f6f6"/>
<ellipse cx="704.0" cy="772.4" rx="8.1" ry="4.5" fill="#d9d8dd"/>
<ellipse cx="1378.5" cy="776.0" rx="3.2" ry="4.0" fill="#d1d0d6"/>
<ellipse cx="82.4" cy="805.8" rx="3.2" ry="6.7" fill="#d1d0d6"/>
<ellipse cx="1093.1" cy="819.9" rx="6.9" ry="6.9" fill="#d4d3d8"/>
<ellipse cx="140.5" cy="784.6" rx="3.0" ry="3.8" fill="#f6f6f6"/>
<ellipse cx="415.3" cy="809.2" rx="7.5" ry="3.4" fill="#d1d0d6"/>
<ellipse cx="516.6" cy="791.1" rx="5.2" ry="4.5" fill="#dddce0"/>
<ellipse cx="331.5" cy="768.9" rx="7.1" ry="3.1" fill="#f6f6f6"/>
<ellipse cx="1268.5" cy="827.9" rx="3.9" ry="6.3" fill="#d4d3d8"/>
<ellipse cx="1298.2" cy="834.0" rx="8.3" ry="3.6" fill="#dddce0"/>
<ellipse cx="1331.6" cy="839.3" rx="5.3" ry="3.1" fill="#d4d3d8"/>
<ellipse cx="628.7" cy="786.6" rx="7.9" ry="4.9" fill="#f6f6f6"/>
<ellipse cx="508.8" cy="785.9" rx="7.4" ry="3.7" fill="#dddce0"/>
<ellipse cx="769.2" cy="769.0" rx="8.2" ry="4.1" fill="#dddce0"/>
<ellipse cx="343.0" cy="758.3" rx="6.4" ry="4.2" fill="#d9d8dd"/>
<ellipse cx="362.3" cy="765.8" rx="5.7" ry="4.9" fill="#d9d8dd"/>
<ellipse cx="1360.3" cy="761.1" rx="8.4" ry="5.7" fill="#d9d8dd"/>
<ellipse cx="778.3" cy="831.2" rx="3.7" ry="6.0" fill="#d1d0d6"/>
<ellipse cx="600.6" cy="779.5" rx="4.4" ry="4.0" fill="#dddce0"/>
<ellipse cx="402.3" cy="836.7" rx="3.3" ry="5.9" fill="#d1d0d6"/>
<ellipse cx="200.6" cy="813.6" rx="5.7" ry="5.0" fill="#f4f3f4"/>
<ellipse cx="194.8" cy="756.2" rx="8.0" ry="5.1" fill="#d9d8dd"/>
<ellipse cx="500.5" cy="759.6" rx="5.5" ry="4.1" fill="#d9d8dd"/>
<ellipse cx="191.9" cy="772.2" rx="7.6" ry="5.8" fill="#d9d8dd"/>
<ellipse cx="834.9" cy="830.6" rx="8.3" ry="5.9" fill="#d1d0d6"/>
<ellipse cx="243.7" cy="768.3" rx="7.0" ry="5.5" fill="#d9d8dd"/>
<ellipse cx="810.3" cy="774.2" rx="3.4" ry="5.9" fill="#dddce0"/>
<ellipse cx="1169.1" cy="838.5" rx="6.1" ry="4.4" fill="#d1d0d6"/>
<ellipse cx="1170.3" cy="833.8" rx="6.0" ry="3.1" fill="#dddce0"/>
<ellipse cx="185.3" cy="815.9" rx="4.5" ry="5.3" fill="#d1d0d6"/>
<ellipse cx="51.0" cy="819.2" rx="6.4" ry="6.4" fill="#d1d0d6"/>
<ellipse cx="722.6" cy="796.1" rx="6.1" ry="3.5" fill="#f6f6f6"/>
<ellipse cx="340.2" cy="830.7" rx="8.5" ry="6.1" fill="#dddce0"/>
<ellipse cx="801.1" cy="836.8" rx="4.7" ry="3.4" fill="#f6f6f6"/>
<ellipse cx="687.8" cy="802.2" rx="6.2" ry="5.1" fill="#d4d3d8"/>
<ellipse cx="338.5" cy="764.0" rx="6.7" ry="3.7" fill="#d1d0d6"/>
<ellipse cx="348.1" cy="829.5" rx="3.2" ry="3.4" fill="#f6f6f6"/>
<ellipse cx="1026.9" cy="779.5" rx="8.0" ry="5.5" fill="#dddce0"/>
<ellipse cx="726.8" cy="819.2" rx="3.6" ry="6.5" fill="#f6f6f6"/>
<ellipse cx="248.8" cy="780.6" rx="5.8" ry="5.3" fill="#d1d0d6"/>
<ellipse cx="153.0" cy="766.9" rx="8.3" ry="5.2" fill="#d9d8dd"/>
<ellipse cx="1137.2" cy="614.7" rx="15.2" ry="4.2" fill="#e8e7e6"/>
<ellipse cx="1233.0" cy="601.9" rx="16.2" ry="4.1" fill="#eae9e9"/>
<ellipse cx="1113.7" cy="652.6" rx="12.3" ry="4.8" fill="#f4f3f2"/>
<ellipse cx="562.4" cy="624.0" rx="11.4" ry="3.3" fill="#eae9e9"/>
<ellipse cx="1074.8" cy="691.3" rx="19.0" ry="4.5" fill="#e8e7e6"/>
<ellipse cx="547.4" cy="614.7" rx="16.9" ry="3.1" fill="#f4f3f2"/>
<ellipse cx="919.4" cy="601.2" rx="7.7" ry="2.6" fill="#f4f3f2"/>
<ellipse cx="666.3" cy="650.5" rx="6.3" ry="2.4" fill="#f4f3f2"/>
<ellipse cx="1044.2" cy="693.7" rx="16.1" ry="4.4" fill="#e8e7e6"/>
<ellipse cx="227.8" cy="664.2" rx="10.3" ry="4.0" fill="#f4f3f2"/>
<ellipse cx="881.1" cy="680.6" rx="6.6" ry="2.3" fill="#e8e7e6"/>
<ellipse cx="762.3" cy="643.4" rx="21.2" ry="2.9" fill="#f4f3f2"/>
<ellipse cx="572.3" cy="616.7" rx="7.0" ry="4.9" fill="#eae9e9"/>
<ellipse cx="1181.6" cy="608.4" rx="15.4" ry="4.8" fill="#f4f3f2"/>
<ellipse cx="326.3" cy="613.1" rx="10.7" ry="3.2" fill="#f4f3f2"/>
<ellipse cx="491.5" cy="673.6" rx="17.8" ry="2.9" fill="#f4f3f2"/>
<ellipse cx="860.9" cy="657.0" rx="16.4" ry="2.6" fill="#eae9e9"/>
<ellipse cx="593.5" cy="689.2" rx="10.9" ry="3.4" fill="#f4f3f2"/>
<ellipse cx="224.1" cy="633.4" rx="9.0" ry="3.6" fill="#eae9e9"/>
<ellipse cx="626.1" cy="692.4" rx="8.6" ry="4.9" fill="#f4f3f2"/>
<ellipse cx="802.3" cy="649.1" rx="10.6" ry="5.0" fill="#f4f3f2"/>
<ellipse cx="252.6" cy="602.2" rx="14.8" ry="3.8" fill="#f4f3f2"/>
<ellipse cx="674.0" cy="606.2" rx="12.2" ry="3.3" fill="#eae9e9"/>
<ellipse cx="1029.1" cy="652.1" rx="21.8" ry="4.0" fill="#e8e7e6"/>
<ellipse cx="648.4" cy="666.8" rx="8.2" ry="2.6" fill="#eae9e9"/>
<ellipse cx="1125.0" cy="682.1" rx="14.3" ry="4.2" fill="#eae9e9"/>
<ellipse cx="1204.2" cy="699.6" rx="10.3" ry="3.9" fill="#eae9e9"/>
<ellipse cx="1196.2" cy="612.7" rx="19.9" ry="2.0" fill="#eae9e9"/>
<ellipse cx="834.4" cy="649.8" rx="21.4" ry="3.7" fill="#f4f3f2"/>
<ellipse cx="1124.9" cy="627.9" rx="15.9" ry="2.3" fill="#f4f3f2"/>
<ellipse cx="951.9" cy="628.8" rx="11.6" ry="3.1" fill="#eae9e9"/>
<ellipse cx="800.9" cy="638.5" rx="11.2" ry="4.4" fill="#f4f3f2"/>
<ellipse cx="608.7" cy="630.0" rx="14.6" ry="4.4" fill="#f4f3f2"/>
<ellipse cx="823.0" cy="658.2" rx="7.4" ry="4.8" fill="#f4f3f2"/>
<ellipse cx="1255.8" cy="660.8" rx="9.9" ry="3.0" fill="#f4f3f2"/>
<ellipse cx="1170.4" cy="695.6" rx="6.4" ry="2.8" fill="#f4f3f2"/>
<ellipse cx="519.8" cy="653.6" rx="11.0" ry="3.9" fill="#f4f3f2"/>
<ellipse cx="759.2" cy="651.7" rx="17.0" ry="3.2" fill="#f4f3f2"/>
<ellipse cx="234.8" cy="667.6" rx="13.2" ry="2.0" fill="#e8e7e6"/>
<ellipse cx="767.8" cy="609.9" rx="12.0" ry="3.2" fill="#eae9e9"/>
<ellipse cx="1211.3" cy="615.4" rx="9.0" ry="3.3" fill="#f4f3f2"/>
<ellipse cx="674.2" cy="662.5" rx="21.9" ry="3.0" fill="#eae9e9"/>
<ellipse cx="1011.1" cy="609.2" rx="11.8" ry="3.1" fill="#e8e7e6"/>
<ellipse cx="1098.6" cy="651.3" rx="7.8" ry="4.7" fill="#eae9e9"/>
<ellipse cx="567.7" cy="693.5" rx="14.1" ry="4.9" fill="#eae9e9"/>
<ellipse cx="362.0" cy="629.0" rx="14.2" ry="3.5" fill="#e8e7e6"/>
<ellipse cx="643.5" cy="606.0" rx="15.0" ry="2.3" fill="#eae9e9"/>
<ellipse cx="1283.1" cy="663.7" rx="6.7" ry="3.2" fill="#e8e7e6"/>
<ellipse cx="527.4" cy="669.1" rx="6.1" ry="2.9" fill="#e8e7e6"/>
<ellipse cx="834.8" cy="666.8" rx="9.1" ry="3.5" fill="#eae9e9"/>
<ellipse cx="813.7" cy="687.1" rx="20.3" ry="3.5" fill="#e8e7e6"/>
<ellipse cx="821.9" cy="641.1" rx="7.9" ry="2.5" fill="#eae9e9"/>
<ellipse cx="307.3" cy="610.0" rx="8.7" ry="3.6" fill="#f4f3f2"/>
<ellipse cx="864.3" cy="680.7" rx="7.0" ry="2.0" fill="#eae9e9"/>
<ellipse cx="545.1" cy="671.5" rx="11.7" ry="2.5" fill="#f4f3f2"/>
<ellipse cx="881.6" cy="685.9" rx="21.2" ry="2.2" fill="#e8e7e6"/>
<ellipse cx="684.8" cy="638.6" rx="6.9" ry="4.7" fill="#eae9e9"/>
<ellipse cx="1030.5" cy="604.4" rx="6.9" ry="2.7" fill="#e8e7e6"/>
<ellipse cx="238.4" cy="693.1" rx="19.7" ry="2.9" fill="#f4f3f2"/>
<ellipse cx="524.0" cy="660.3" rx="21.4" ry="3.5" fill="#e8e7e6"/>
<ellipse cx="457.2" cy="639.0" rx="17.5" ry="2.7" fill="#f4f3f2"/>
<ellipse cx="628.5" cy="671.2" rx="6.4" ry="4.6" fill="#e8e7e6"/>
<ellipse cx="380.8" cy="635.8" rx="9.0" ry="4.9" fill="#f4f3f2"/>
<ellipse cx="625.6" cy="636.3" rx="11.4" ry="4.6" fill="#f4f3f2"/>
<ellipse cx="633.5" cy="606.5" rx="8.0" ry="4.5" fill="#f4f3f2"/>
<ellipse cx="799.2" cy="638.7" rx="13.5" ry="3.0" fill="#f4f3f2"/>
<ellipse cx="228.4" cy="666.4" rx="11.5" ry="2.5" fill="#eae9e9"/>
<ellipse cx="332.9" cy="619.6" rx="14.7" ry="4.4" fill="#eae9e9"/>
<ellipse cx="677.6" cy="683.6" rx="18.9" ry="2.5" fill="#f4f3f2"/>
<ellipse cx="428.1" cy="640.5" rx="16.1" ry="3.7" fill="#f4f3f2"/>
<ellipse cx="1236.0" cy="650.5" rx="9.6" ry="3.4" fill="#e8e7e6"/>
<ellipse cx="1226.3" cy="699.8" rx="15.5" ry="3.3" fill="#f4f3f2"/>
<ellipse cx="778.1" cy="640.4" rx="14.2" ry="2.4" fill="#e8e7e6"/>
<ellipse cx="935.6" cy="609.1" rx="19.6" ry="4.2" fill="#f4f3f2"/>
<ellipse cx="221.6" cy="671.8" rx="8.3" ry="2.0" fill="#eae9e9"/>
<ellipse cx="284.6" cy="617.7" rx="19.6" ry="3.0" fill="#eae9e9"/>
<ellipse cx="1170.5" cy="606.8" rx="20.6" ry="4.4" fill="#f4f3f2"/>
<ellipse cx="402.1" cy="671.9" rx="7.4" ry="2.9" fill="#eae9e9"/>
<ellipse cx="628.9" cy="635.6" rx="19.5" ry="3.4" fill="#eae9e9"/>
<ellipse cx="1161.0" cy="686.1" rx="8.1" ry="2.8" fill="#e8e7e6"/>
</g>
</svg>

<!-- ===================== CHART ===================== -->
<svg id="chart" width="1390" height="885" viewBox="0 0 1390 885">
  <!-- pie -->
  <g stroke="#ffffff" stroke-width="2" stroke-linejoin="round">
    <path id="s-blue" d="M713.4,538.0 L713.4,287.0 A251.0,251.0 0 0 1 885.2,721.0 Z" fill="#4f81bd"/>
    <path id="s-red" d="M697.0,544.3 L868.8,727.3 A251.0,251.0 0 0 1 463.6,451.9 Z" fill="#c0504d"/>
    <path id="s-green" d="M697.0,544.3 L463.6,451.9 A251.0,251.0 0 0 1 665.5,295.3 Z" fill="#9bbb59"/>
    <path id="s-purple" d="M697.0,544.3 L665.5,295.3 A251.0,251.0 0 0 1 697.0,293.3 Z" fill="#8064a2"/>
  </g>

  <!-- INTERVIEW logo -->
  <g id="logo-interview" style="filter:blur(0.35px)">
    <!-- bar 1 -->
    <polygon points="38.4,39.8 48.6,45.2 48.6,57 38.4,51.1" fill="#b5b3af"/>
    <polygon points="48.6,45.2 54.8,39.8 54.8,51.5 48.6,57" fill="#3b3b3b"/>
    <polygon points="38.4,39.8 47.6,33.4 54.8,39.8 48.6,45.6" fill="#6f0035"/>
    <!-- bar 2 -->
    <polygon points="55,34.6 65.2,40.4 65.2,66.2 55,60.3" fill="#b5b3af"/>
    <polygon points="65.2,40.4 71.3,34.6 71.3,60.6 65.2,66.2" fill="#3b3b3b"/>
    <polygon points="55,34.6 64.2,28.1 71.3,34.6 65.2,40.8" fill="#6f0035"/>
    <!-- bar 3 -->
    <polygon points="71.1,28.3 81.3,34 81.3,75.8 71.1,69.4" fill="#b5b3af"/>
    <polygon points="81.3,34 88.5,28.3 88.5,69.6 81.3,75.8" fill="#3b3b3b"/>
    <polygon points="71.1,28.3 80.3,22.2 88.5,28.3 81.3,34.4" fill="#6f0035"/>
    <!-- bar 4 -->
    <polygon points="88.3,21.2 98.5,27 98.5,85.5 88.3,79" fill="#b5b3af"/>
    <polygon points="98.5,27 108.2,21.2 108.2,79 98.5,85.5" fill="#3b3b3b"/>
    <polygon points="88.3,21.2 98.3,14.1 108.2,21.2 98.5,27.4" fill="#6f0035"/>
    <!-- divider -->
    <rect x="119.5" y="14" width="2.8" height="76.3" fill="#8a3560"/>
    <text x="131" y="54.8" font-size="34.2" font-weight="bold" fill="#6f0b37" textLength="204.5" lengthAdjust="spacingAndGlyphs">INTERVIEW</text>
    <text x="131.3" y="71.3" font-size="10.6" font-weight="bold" fill="#3e3e46" textLength="103" lengthAdjust="spacing">We simply ask!</text>
  </g>

  <!-- politic.gr logo -->
  <g id="logo-politic">
    <rect x="1176.6" y="6.3" width="204.2" height="76.5" fill="#000000"/>
    <text x="1190.2" y="61.2" font-size="66" font-weight="bold" fill="#ffffff" stroke="#ffffff" stroke-width="2.6" stroke-linejoin="round" textLength="131" lengthAdjust="spacingAndGlyphs" style="font-family:'Liberation Serif',serif">politic</text>
    <rect x="1322" y="23.7" width="45" height="44.7" rx="4.5" ry="4.5" fill="#f15a29"/>
    <text x="1331.5" y="50.8" font-size="28" font-weight="bold" fill="#2a1216" textLength="30.5" lengthAdjust="spacingAndGlyphs" style="font-family:'Liberation Serif',serif">gr</text>
  </g>

  <!-- title -->
  <text x="692" y="149" text-anchor="middle" font-size="31" font-weight="bold" fill="#595959" textLength="417" lengthAdjust="spacing">Το εισόδημά σας φτάνει για:</text>

  <!-- callout label boxes -->
  <g fill="#ffffff" stroke="#d2d2d2" stroke-width="1.6" stroke-linejoin="miter">
    <!-- 17% -->
    <path d="M238,242 H407 V275.5 L541.5,345 L407,330 V452 H238 Z"/>
    <!-- 2% -->
    <path d="M619.5,233 H720.5 V306.4 H619.5 Z"/>
    <!-- 38% -->
    <path d="M960.7,391 H1148 V464 H960.7 V451 L947.5,445.8 L960.7,433.7 Z"/>
    <!-- 43% -->
    <path d="M256.7,705.3 H394.5 V726.7 L554,752.4 L394.5,763.4 V846.5 H256.7 Z"/>
  </g>

  <!-- label text -->
  <g font-size="29" font-weight="bold" fill="#595959" text-anchor="middle">
    <text x="322.5" y="273">Εξαντλείται</text>
    <text x="322.5" y="306.8">από τις</text>
    <text x="322.5" y="340.5">πρώτες</text>
    <text x="322.5" y="374.3">μέρες του</text>
    <text x="322.5" y="408">μήνα</text>
    <text x="322.5" y="441.8">17%</text>

    <text x="670.3" y="263">ΔΓ/ΔΑ</text>
    <text x="670.3" y="296.8">2%</text>

    <text x="1054.2" y="421.4">Όλο το μήνα</text>
    <text x="1054.2" y="455.3">38%</text>

    <text x="325.5" y="735.4">Μέχρι τα</text>
    <text x="325.5" y="769.3">μέσα του</text>
    <text x="325.5" y="803.1">μήνα</text>
    <text x="325.5" y="836.9">43%</text>
  </g>
</svg>

</div>
</body>
</html>
